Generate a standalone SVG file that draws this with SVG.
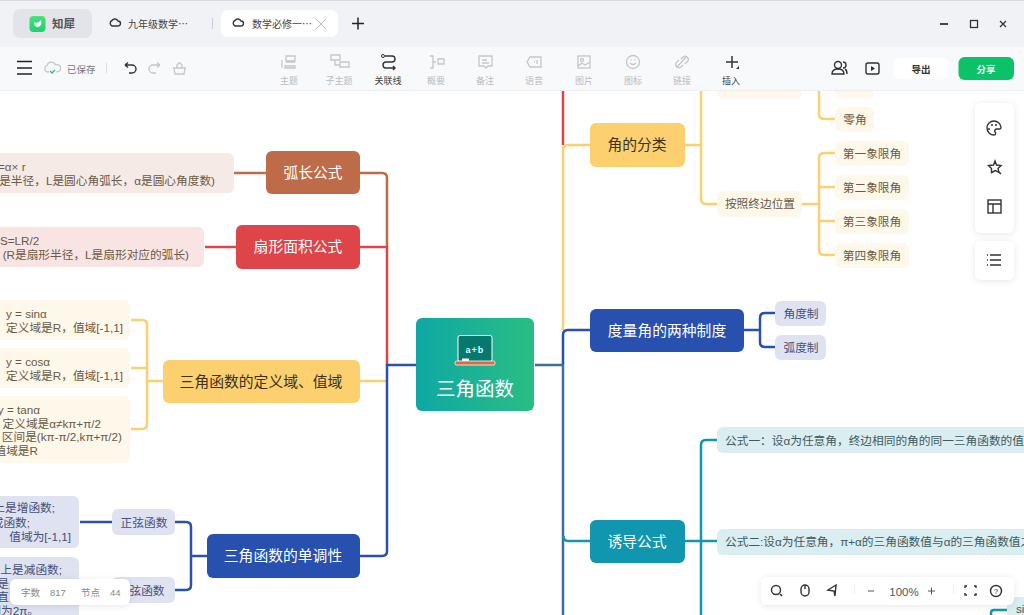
<svg xmlns="http://www.w3.org/2000/svg" width="1024" height="615" viewBox="0 0 1024 615">
<style>
text{font-family:"Liberation Sans","Noto Sans CJK SC",sans-serif}
.c{fill:none;stroke-width:2.5;stroke-linejoin:round}
.y{stroke:#fcd06e}.b{stroke:#2850ae}.r{stroke:#dd4549}.o{stroke:#bd6b48}.t{stroke:#1096ae}.s{stroke:#3e6f9a}
.main{font-size:14.8px;text-anchor:middle;fill:#fff}
.dark{font-size:14.8px;text-anchor:middle;fill:#3a3222}
.sub{font-size:11.7px;text-anchor:middle;fill:#6b5a45}
.sb{font-size:11.7px;text-anchor:middle;fill:#46507a}
.sbn{font-size:11.7px;fill:#46507a}
.note{font-size:11.7px;fill:#6b5a45}
.e{text-anchor:end}
.tg{font-size:11.7px;fill:#3f5a60}
.tool{font-size:9px;text-anchor:middle;fill:#b8bbc0}
.ic{fill:none;stroke:#c4c6ca;stroke-width:1.3}
.ik{fill:none;stroke:#333;stroke-width:1.4}
.panel{fill:#fff;filter:url(#sh)}
</style>
<defs>
<linearGradient id="g" x1="0" x2="1"><stop offset="0" stop-color="#0ea8a4"/><stop offset="1" stop-color="#2abd84"/></linearGradient>
<linearGradient id="lg" x1="0" x2="0" y1="0" y2="1"><stop offset="0" stop-color="#4be07f"/><stop offset="1" stop-color="#1fd06e"/></linearGradient>
<filter id="sh" x="-20%" y="-30%" width="140%" height="160%"><feDropShadow dx="0" dy="1" stdDeviation="3" flood-color="#000" flood-opacity=".1"/></filter>
</defs>
<rect width="1024" height="615" fill="#fff"/>
<g id="connectors">
<path class="c r" d="M563 85V145"/>
<path class="c y" d="M563 330V150Q563 145 568 145H590"/>
<path class="c b" d="M563 365V335Q563 330 568 330H590"/>
<path class="c s" d="M535 365H563V620"/>
<path class="c t" d="M563.500 536Q563.500 541 568 541H590"/>
<path class="c o" d="M360 173H382Q387 173 387 178V247"/>
<path class="c r" d="M360 247H387V365"/>
<path class="c y" d="M360 381H387"/>
<path class="c b" d="M416 365H387V551Q387 556 382 556H360"/>
<path class="c o" d="M234 173H266"/>
<path class="c r" d="M205 247H236"/>
<path class="c y" d="M163 381H147M131 320H142Q147 320 147 325V424Q147 429 142 429H131M131 368H147"/>
<path class="c b" d="M207 556H191M175 522H186Q191 522 191 527V585Q191 590 186 590H175"/>
<path class="c b" d="M80 522H112"/>
<path class="c y" d="M685 145H701M701 85V199Q701 204 706 204H717"/>
<path class="c y" d="M802 204H819M819 85V114Q819 119 824 119H835M835 153H824Q819 153 819 158V250Q819 255 824 255H835M819 187H835M819 221H835"/>
<path class="c b" d="M744 330H760M775 313H765Q760 313 760 318V342Q760 347 765 347H775"/>
<path class="c t" d="M685 541H701M717 440H706Q701 440 701 445V620M701 541H717"/>
<path class="c t" d="M991 620V613Q991 610 994 610H1007"/>
</g>
<g id="root">
<rect x="416" y="318" width="118" height="93" rx="6" fill="url(#g)"/>
<rect x="458" y="335.500" width="34" height="26" rx="2" fill="#06796f" stroke="#fff"/>
<rect x="455" y="361" width="40" height="4" rx="1.500" fill="#d96a45" stroke="#fff" stroke-width=".8"/>
<rect x="462" y="358.500" width="7" height="2.500" fill="#fff"/>
<text x="475" y="353" font-size="9" font-weight="700" letter-spacing="1" text-anchor="middle" fill="#dff">a+b</text>
<text x="475" y="396" font-size="19.500" text-anchor="middle" fill="#fff">三角函数</text></g>
<g id="n-arc"><rect x="266" y="151" width="94" height="43" rx="6" fill="#bd6b48"/><text x="313" y="178" class="main">弧长公式</text></g>
<g id="n-arc-note"><rect x="-20" y="153" width="254" height="40" rx="6" fill="#f5eae5"/><text class="note"><tspan x="-2" y="171">=α× r</tspan><tspan x="215" y="185" class="e">r是半径，L是圆心角弧长，α是圆心角度数)</tspan></text></g>
<g id="n-sector"><rect x="236" y="225" width="124" height="44" rx="6" fill="#dd4549"/><text x="298" y="252" class="main">扇形面积公式</text></g>
<g id="n-sector-note"><rect x="-20" y="227" width="224" height="40" rx="6" fill="#f9e4e4"/><text class="note"><tspan x="0" y="245">S=LR/2</tspan><tspan x="189" y="259" class="e">(R是扇形半径，L是扇形对应的弧长)</tspan></text></g>
<g id="n-domain"><rect x="163" y="360" width="197" height="43" rx="6" fill="#fcd06e"/><text x="261" y="387" class="dark">三角函数的定义域、值域</text></g>
<g id="n-sin"><rect x="-20" y="300" width="150" height="40" rx="6" fill="#fef8ea"/><text class="note"><tspan x="6" y="318">y = sinα</tspan><tspan x="6" y="332">定义域是R，值域[-1,1]</tspan></text></g>
<g id="n-cos"><rect x="-20" y="348" width="150" height="40" rx="6" fill="#fef8ea"/><text class="note"><tspan x="6" y="366">y = cosα</tspan><tspan x="6" y="380">定义域是R，值域[-1,1]</tspan></text></g>
<g id="n-tan"><rect x="-20" y="396" width="150" height="67" rx="6" fill="#fef8ea"/><text class="note"><tspan x="40" y="414" class="e">y = tanα</tspan><tspan x="101" y="428" class="e">定义域是α≠kπ+π/2</tspan><tspan x="122" y="441" class="e">区间是(kπ-π/2,kπ+π/2)</tspan><tspan x="38" y="455" class="e">值域是R</tspan></text></g>
<g id="n-mono"><rect x="207" y="534" width="153" height="44" rx="6" fill="#2850ae"/><text x="283" y="561" class="main">三角函数的单调性</text></g>
<g id="n-sinf"><rect x="112" y="509" width="63" height="26" rx="6" fill="#dfe3f1"/><text x="144" y="527" class="sb">正弦函数</text></g>
<g id="n-cosf"><rect x="112" y="577" width="63" height="26" rx="6" fill="#dfe3f1"/><text x="147" y="595" class="sb">弦函数</text></g>
<g id="n-sinn"><rect x="-20" y="496" width="99" height="52" rx="6" fill="#dfe3f1"/><text class="sbn"><tspan x="55" y="512" class="e">上是增函数;</tspan><tspan x="30" y="527" class="e">或函数;</tspan><tspan x="71" y="541" class="e">值域为[-1,1]</tspan></text></g>
<g id="n-cosn"><rect x="-20" y="557" width="99" height="70" rx="6" fill="#dfe3f1"/><text class="sbn"><tspan x="62" y="574" class="e">上是减函数;</tspan><tspan x="9" y="588" class="e">是</tspan><tspan x="9" y="601" class="e">直</tspan><tspan x="39" y="615" class="e">期为2π。</tspan></text></g>
<g id="n-class"><rect x="590" y="123" width="95" height="44" rx="6" fill="#fcd06e"/><text x="637" y="150" class="dark">角的分类</text></g>
<g id="n-rot"><rect x="717" y="72" width="85" height="26" rx="6" fill="#fef8ea"/></g>
<g id="n-neg"><rect x="835" y="73" width="39" height="25" rx="6" fill="#fef8ea"/><text x="855" y="90" class="sub">负角</text></g>
<g id="n-zero"><rect x="835" y="107" width="39" height="25" rx="6" fill="#fef8ea"/><text x="855" y="124" class="sub">零角</text></g>
<g id="n-term"><rect x="717" y="191" width="85" height="26" rx="6" fill="#fef8ea"/><text x="760" y="208" class="sub">按照终边位置</text></g>
<g id="n-q1"><rect x="835" y="141" width="74" height="25" rx="6" fill="#fef8ea"/><text x="872" y="158" class="sub">第一象限角</text></g>
<g id="n-q2"><rect x="835" y="175" width="74" height="25" rx="6" fill="#fef8ea"/><text x="872" y="192" class="sub">第二象限角</text></g>
<g id="n-q3"><rect x="835" y="209" width="74" height="25" rx="6" fill="#fef8ea"/><text x="872" y="226" class="sub">第三象限角</text></g>
<g id="n-q4"><rect x="835" y="243" width="74" height="25" rx="6" fill="#fef8ea"/><text x="872" y="260" class="sub">第四象限角</text></g>
<g id="n-measure"><rect x="590" y="309" width="154" height="43" rx="6" fill="#2850ae"/><text x="667" y="336" class="main">度量角的两种制度</text></g>
<g id="n-deg"><rect x="775" y="301" width="51" height="25" rx="6" fill="#dfe3f1"/><text x="801" y="318" class="sb">角度制</text></g>
<g id="n-rad"><rect x="775" y="335" width="51" height="25" rx="6" fill="#dfe3f1"/><text x="801" y="352" class="sb">弧度制</text></g>
<g id="n-induct"><rect x="590" y="520" width="95" height="43" rx="6" fill="#1096ae"/><text x="637" y="547" class="main">诱导公式</text></g>
<g id="n-f1"><rect x="717" y="427" width="320" height="26" rx="6" fill="#daedf1"/><text x="725" y="445" class="tg">公式一：设α为任意角，终边相同的角的同一三角函数的值相</text></g>
<g id="n-f2"><rect x="717" y="529" width="320" height="26" rx="6" fill="#daedf1"/><text x="725" y="546" class="tg">公式二:设α为任意角，π+α的三角函数值与α的三角函数值之</text></g>
<g id="n-f3"><rect x="1007" y="597" width="40" height="30" rx="6" fill="#daedf1"/><text x="1016" y="613" class="tg">si</text></g>
<g id="titlebar">
<rect width="1024" height="47" fill="#f0f2f6"/><rect width="1024" height="1" fill="#d9dadd"/>
<rect x="13" y="9" width="79" height="29" rx="7" fill="#e2e4e9"/>
<rect x="29.500" y="16" width="16" height="16" rx="4" fill="url(#lg)"/><path d="M34 21.500q.5 1.500 2 1.500l3-1 2-2 .5 3q-1 4-4 4t-3.500-5z" fill="#fff"/>
<text x="52" y="28" font-size="11.500" font-weight="700" fill="#555">知犀</text>
<path class="ik" d="M112 26h6a2.500 2.500 0 0 0 0-5a3.500 3.500 0 0 0-6-.500a3 3 0 0 0 0 5.500z" stroke-width="1"/>
<text x="128" y="28" font-size="10" fill="#444">九年级数学⋯</text>
<rect x="212" y="18" width="1" height="11" fill="#ccc"/>
<rect x="221" y="10" width="117" height="27" rx="7" fill="#fff"/>
<path class="ik" d="M235 26h6a2.500 2.500 0 0 0 0-5a3.500 3.500 0 0 0-6-.500a3 3 0 0 0 0 5.500z" stroke-width="1"/>
<text x="252" y="28" font-size="10" fill="#444">数学必修一⋯</text>
<path d="M316 19l10 10M326 19l-10 10" stroke="#bbb" fill="none"/>
<path d="M352 23.500h12M358 17.500v12" stroke="#222" stroke-width="1.500" fill="none"/>
<path d="M940 24h8" stroke="#333" stroke-width="1.800"/><rect x="970.500" y="20.500" width="7" height="7" fill="none" stroke="#333" stroke-width="1.300"/>
<path d="M1000 21l6 6M1006 21l-6 6" stroke="#333" stroke-width="1.300"/>
</g>
<g id="toolbar">
<rect y="47" width="1024" height="43.500" fill="#f8f9fb"/><rect y="90" width="1024" height="1" fill="#f0f0f2"/>
<path d="M17 61.500h15M17 68h15M17 74h15" stroke="#222" stroke-width="1.400"/>
<path class="ic" d="M49 72h-2a3.500 3.500 0 0 1 0-6.500 4.500 4.500 0 0 1 8.500-.500 3.500 3.500 0 0 1 3 6.500l-2 .5"/><path d="M50 71l2 2 3-3" stroke="#2bc06a" fill="none" stroke-width="1.300"/>
<text x="67" y="73" font-size="9.500" fill="#777">已保存</text>
<rect x="106" y="63" width="1" height="10" fill="#ddd"/>
<path class="ik" d="M125 65h7a4 4 0 0 1 0 8h-3M125 65l3-2.500M125 65l3 2.500"/>
<path class="ic" d="M160 65h-7a4 4 0 0 0 0 8h3M160 65l-3-2.500M160 65l-3 2.500"/>
<path class="ic" d="M173 68h13M174 68l1 6h9l1-6M177 68v-3l2-2h1l2 2v3"/>
<path class="ic" d="M286 56h9v5h-9zM286 62h9M285 66h10v2h-10zM282 60v8" stroke-dasharray="none"/><text x="289" y="84" class="tool">主题</text>
<path class="ic" d="M331 55h9v5h-9zM340 62h9v5h-9zM335 60v5h5"/><text x="339" y="84" class="tool">子主题</text>
<path class="ik" d="M385 56h7a3 3 0 0 1 0 6h-6a3 3 0 0 0 0 6h9M393 66l2 2-2 2"/><circle cx="383" cy="56" r="1.500" fill="none" stroke="#333"/><text x="388" y="84" class="tool" style="fill:#444">关联线</text>
<path class="ic" d="M430 56h3v12h-3M433 62h3M438 59h6v5h-6z"/><text x="436" y="84" class="tool">概要</text>
<path class="ic" d="M479 56h13v10h-4l-2 2-2-2h-5zM482 60h5M482 63h7"/><text x="485" y="84" class="tool">备注</text>
<path class="ic" d="M530 57h11v10h-11l-3-5z"/><path class="ic" d="M534 62h1M537 60v4"/><text x="534" y="84" class="tool">语音</text>
<rect class="ic" x="578" y="56" width="12" height="12"/><circle class="ic" cx="582" cy="60" r="1.500"/><path class="ic" d="M578 66l4-3 3 2 5-3"/><text x="584" y="84" class="tool">图片</text>
<circle class="ic" cx="633" cy="62" r="6.500"/><path class="ic" d="M630 63q3 3 6 0M630.500 60h1M634.500 60h1"/><text x="633" y="84" class="tool">图标</text>
<path class="ic" d="M677 67l9-10M679 60l-2 2a3 3 0 0 0 4 5l2-2M685 64l2-2a3 3 0 0 0-4-5l-2 2"/><text x="682" y="84" class="tool">链接</text>
<path d="M726 62h12M732 56v12" stroke="#333" stroke-width="1.500"/><path d="M736 69h3v-3z" fill="#333"/><text x="731" y="84" class="tool" style="fill:#444">插入</text>
<circle class="ik" cx="838" cy="65" r="3.500"/><path class="ik" d="M832 74q0-5 6-5t6 5zM843 62a3 3 0 0 1 0 6M845 69q2 1 2 5"/>
<rect class="ik" x="866" y="63" width="13" height="11" rx="2"/><path d="M871 66l4 2.500-4 2.500z" fill="#333"/>
<rect x="894" y="58" width="54" height="21" rx="5" fill="#fff"/><text x="921" y="73" font-size="9.500" font-weight="700" text-anchor="middle" fill="#333">导出</text>
<rect x="958.500" y="57" width="55.500" height="23" rx="6" fill="#0cc269"/><text x="986" y="73" font-size="9.500" font-weight="700" text-anchor="middle" fill="#fff">分享</text>
</g>
<g id="panels">
<rect class="panel" x="975" y="103" width="39" height="130" rx="6"/>
<path class="ik" d="M994 121a7 7 0 1 0 0 14c2 0 2-2 1-3s0-3 2-3h3c1 0 1-1 1-2a7 7 0 0 0-7-6z"/><circle cx="992" cy="125" r="1" fill="#333"/><circle cx="996" cy="125" r="1" fill="#333"/><circle cx="989" cy="129" r="1" fill="#333"/>
<path class="ik" d="M995 161l1.500 4 4.500.500-3 3 1 4-3.500-2-4 2 0-4-3-3 5-.500zM999 172l2 2"/>
<rect class="ik" x="988" y="200" width="13" height="13"/><path class="ik" d="M988 204h13M993 204v9"/>
<rect class="panel" x="975" y="241" width="39" height="39" rx="6"/>
<path class="ik" d="M987 255h1M990 255h11M987 260h1M990 260h11M987 265h1M990 265h11"/>
<rect class="panel" x="10" y="579" width="120" height="26" rx="6"/>
<text x="21" y="596" font-size="9.500" fill="#888">字数</text><text x="50" y="596" font-size="9.500" fill="#888">817</text><text x="81" y="596" font-size="9.500" fill="#888">节点</text><text x="110" y="596" font-size="9.500" fill="#888">44</text>
<rect class="panel" x="761" y="577" width="253" height="28" rx="6"/>
<circle class="ik" cx="776" cy="590" r="4.500"/><path class="ik" d="M780 594l2 2"/>
<rect class="ik" x="801" y="585" width="8" height="11" rx="4"/><path class="ik" d="M805 585v4"/>
<path class="ik" d="M836 585l-8 5 6 1 1 5z"/>
<rect x="854" y="586" width="1" height="8" fill="#eee"/>
<path d="M868 591h6" stroke="#555"/><text x="904" y="596" font-size="11.500" text-anchor="middle" fill="#555">100%</text><path d="M928 591h7M931.500 587.500v7" stroke="#555"/>
<rect x="953" y="586" width="1" height="8" fill="#eee"/>
<path class="ik" d="M965 588v-2h2M974 586h2v2M965 593v2h2M976 593v2h-2"/>
<circle class="ik" cx="996" cy="591" r="5.500"/><text x="996" y="594" font-size="8" text-anchor="middle" fill="#333">?</text>
</g>
</svg>
